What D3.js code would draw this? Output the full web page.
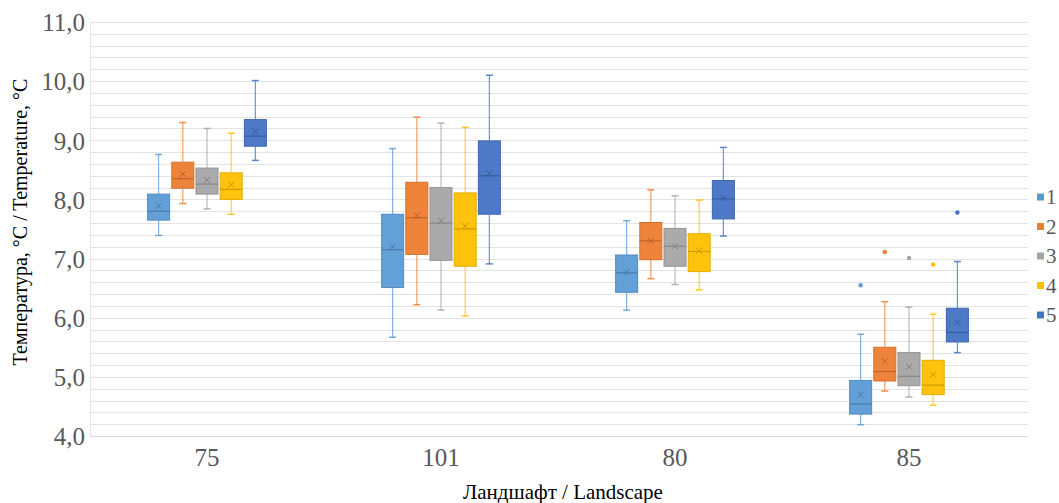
<!DOCTYPE html>
<html><head><meta charset="utf-8">
<script src="https://cdn.jsdelivr.net/npm/d3@7"></script>
<style>
html,body{margin:0;padding:0;background:#fff;}
svg{display:block;font-family:"Liberation Serif","Times New Roman",serif;}
</style></head>
<body>
<svg id="chart" width="1059" height="503"></svg>
<script>
const categories = ["75", "101", "80", "85"];
const seriesNames = ["1", "2", "3", "4", "5"];
const colors = ["#5B9BD5", "#ED7D31", "#A5A5A5", "#FFC000", "#4472C4"];
const yTicks = [4, 5, 6, 7, 8, 9, 10, 11];

// per series: values for each category [75, 101, 80, 85]
const whiskerLow = [
  [7.39, 5.67, 6.13, 4.19],
  [7.93, 6.22, 6.66, 4.76],
  [7.84, 6.13, 6.56, 4.66],
  [7.75, 6.03, 6.47, 4.52],
  [8.66, 6.91, 7.38, 5.41]
];
const quartile1 = [
  [7.65, 6.51, 6.43, 4.37],
  [8.19, 7.07, 6.98, 4.93],
  [8.09, 6.97, 6.87, 4.85],
  [8.00, 6.87, 6.78, 4.70],
  [8.90, 7.75, 7.67, 5.59]
];
const medians = [
  [7.80, 7.15, 6.76, 4.54],
  [8.35, 7.69, 7.30, 5.09],
  [8.26, 7.60, 7.21, 5.01],
  [8.17, 7.50, 7.12, 4.86],
  [9.07, 8.40, 8.01, 5.75]
];
const quartile3 = [
  [8.09, 7.75, 7.06, 4.94],
  [8.63, 8.29, 7.61, 5.50],
  [8.53, 8.20, 7.51, 5.41],
  [8.45, 8.11, 7.42, 5.28],
  [9.35, 8.99, 8.32, 6.16]
];
const whiskerHigh = [
  [8.76, 8.86, 7.64, 5.72],
  [9.30, 9.39, 8.16, 6.27],
  [9.20, 9.29, 8.06, 6.18],
  [9.12, 9.22, 7.99, 6.06],
  [10.01, 10.10, 8.88, 6.95]
];
const means = [
  [7.89, 7.20, 6.77, 4.70],
  [8.43, 7.73, 7.30, 5.26],
  [8.33, 7.64, 7.21, 5.17],
  [8.25, 7.55, 7.13, 5.04],
  [9.15, 8.44, 8.02, 5.92]
];
// outliers: [seriesIndex, categoryIndex, value]
const outliers = [
  [0, 3, 6.55],
  [1, 3, 7.11],
  [2, 3, 7.01],
  [3, 3, 6.90],
  [4, 3, 7.78]
];

const svg = d3.select("#chart");
const mLeft = 90, mRight = 1026, mTop = 22, mBottom = 436;

const x = d3.scaleBand().domain(categories).range([mLeft, mRight]).padding(0);
const innerW = 118.75;
const xs = d3.scaleBand().domain(seriesNames).range([0, innerW]).paddingInner(0.09).paddingOuter(0);
const y = d3.scaleLinear().domain([4, 11]).range([mBottom, mTop]);

// gridlines every 0.2
const gridVals = d3.range(0, 36).map(i => +(4 + i * 0.2).toFixed(1));
svg.append("g").selectAll("line").data(gridVals.filter(v => v > 4)).join("line")
  .attr("x1", mLeft).attr("x2", mRight + 2)
  .attr("y1", d => Math.round(y(d)) + 0.5).attr("y2", d => Math.round(y(d)) + 0.5)
  .attr("stroke", "#e3e3e3").attr("stroke-width", 1);

// axes lines
svg.append("line").attr("x1", mLeft).attr("x2", mRight + 2)
  .attr("y1", Math.round(y(4)) + 0.5).attr("y2", Math.round(y(4)) + 0.5)
  .attr("stroke", "#d9d9d9");
svg.append("line").attr("x1", mLeft + 0.5).attr("x2", mLeft + 0.5)
  .attr("y1", y(11)).attr("y2", y(4)).attr("stroke", "#e6e6e6");

// y axis
const yAxis = d3.axisLeft(y).tickValues(yTicks).tickSize(0).tickPadding(5)
  .tickFormat(d => d3.format(".1f")(d).replace(".", ","));
const gy = svg.append("g").attr("transform", `translate(${mLeft},0)`).call(yAxis);
gy.select(".domain").remove();
gy.selectAll("text").attr("font-family", "Liberation Serif").attr("font-size", 25)
  .attr("fill", "#595959").attr("dy", "0.35em");

// x axis
const xAxis = d3.axisBottom(x).tickSize(0).tickPadding(12);
const gx = svg.append("g").attr("transform", `translate(0,${mBottom})`).call(xAxis);
gx.select(".domain").remove();
gx.selectAll("text").attr("font-family", "Liberation Serif").attr("font-size", 25)
  .attr("fill", "#595959");

// axis titles
svg.append("text").attr("x", 563).attr("y", 499).attr("text-anchor", "middle")
  .attr("font-size", 21).attr("fill", "#000").text("Ландшафт / Landscape");
svg.append("text").attr("transform", "translate(27,222) rotate(-90)")
  .attr("text-anchor", "middle").attr("font-size", 20).attr("fill", "#000")
  .text("Температура, °C / Temperature, °C");

// boxes
const boxes = [];
seriesNames.forEach((s, si) => {
  categories.forEach((c, ci) => {
    boxes.push({si, ci, s, c,
      lo: whiskerLow[si][ci], q1: quartile1[si][ci], med: medians[si][ci],
      q3: quartile3[si][ci], hi: whiskerHigh[si][ci], mean: means[si][ci]});
  });
});
const cx = d => x(d.c) + (x.bandwidth() - innerW) / 2 + xs(d.s) + xs.bandwidth() / 2;
const bw = xs.bandwidth();

const g = svg.append("g");
const bg = g.selectAll("g.box").data(boxes).join("g").attr("class", "box");
// whiskers
bg.append("line").attr("x1", cx).attr("x2", cx).attr("y1", d => y(d.hi)).attr("y2", d => y(d.q3))
  .attr("stroke", d => colors[d.si]).attr("stroke-opacity", 0.75).attr("stroke-width", 1.2);
bg.append("line").attr("x1", cx).attr("x2", cx).attr("y1", d => y(d.q1)).attr("y2", d => y(d.lo))
  .attr("stroke", d => colors[d.si]).attr("stroke-opacity", 0.75).attr("stroke-width", 1.2);
// caps
bg.append("line").attr("x1", d => cx(d) - 3.5).attr("x2", d => cx(d) + 3.5)
  .attr("y1", d => y(d.hi)).attr("y2", d => y(d.hi))
  .attr("stroke", d => colors[d.si]).attr("stroke-opacity", 0.85).attr("stroke-width", 1.5);
bg.append("line").attr("x1", d => cx(d) - 3.5).attr("x2", d => cx(d) + 3.5)
  .attr("y1", d => y(d.lo)).attr("y2", d => y(d.lo))
  .attr("stroke", d => colors[d.si]).attr("stroke-opacity", 0.85).attr("stroke-width", 1.5);
// box
bg.append("rect").attr("x", d => cx(d) - bw / 2).attr("width", bw)
  .attr("y", d => y(d.q3)).attr("height", d => y(d.q1) - y(d.q3))
  .attr("fill", d => colors[d.si]).attr("fill-opacity", 0.95)
  .attr("stroke", d => d3.color(colors[d.si]).darker(0.3)).attr("stroke-width", 1);
// median
bg.append("line").attr("x1", d => cx(d) - bw / 2).attr("x2", d => cx(d) + bw / 2)
  .attr("y1", d => y(d.med)).attr("y2", d => y(d.med))
  .attr("stroke", d => d3.color(colors[d.si]).darker(0.6)).attr("stroke-width", 1.2);
// mean marker x
bg.append("path")
  .attr("d", d => { const px = cx(d), py = y(d.mean), r = 3;
    return `M${px - r},${py - r}L${px + r},${py + r}M${px - r},${py + r}L${px + r},${py - r}`; })
  .attr("stroke", d => d3.color(colors[d.si]).darker(0.7)).attr("stroke-width", 1).attr("fill", "none");

// outliers
g.selectAll("circle.out").data(outliers).join("circle").attr("class", "out")
  .attr("cx", d => cx({c: categories[d[1]], s: seriesNames[d[0]]}))
  .attr("cy", d => y(d[2])).attr("r", 2.2).attr("fill", d => colors[d[0]]);

// legend
const lg = svg.append("g").selectAll("g").data(seriesNames).join("g")
  .attr("transform", (d, i) => `translate(1037,${197 + i * 29.5})`);
lg.append("rect").attr("x", 0).attr("y", -3.5).attr("width", 7).attr("height", 7)
  .attr("fill", (d, i) => colors[i]);
lg.append("text").attr("x", 9).attr("dy", "0.35em").attr("font-size", 21)
  .attr("fill", "#595959").text(d => d);
</script>
</body></html>
